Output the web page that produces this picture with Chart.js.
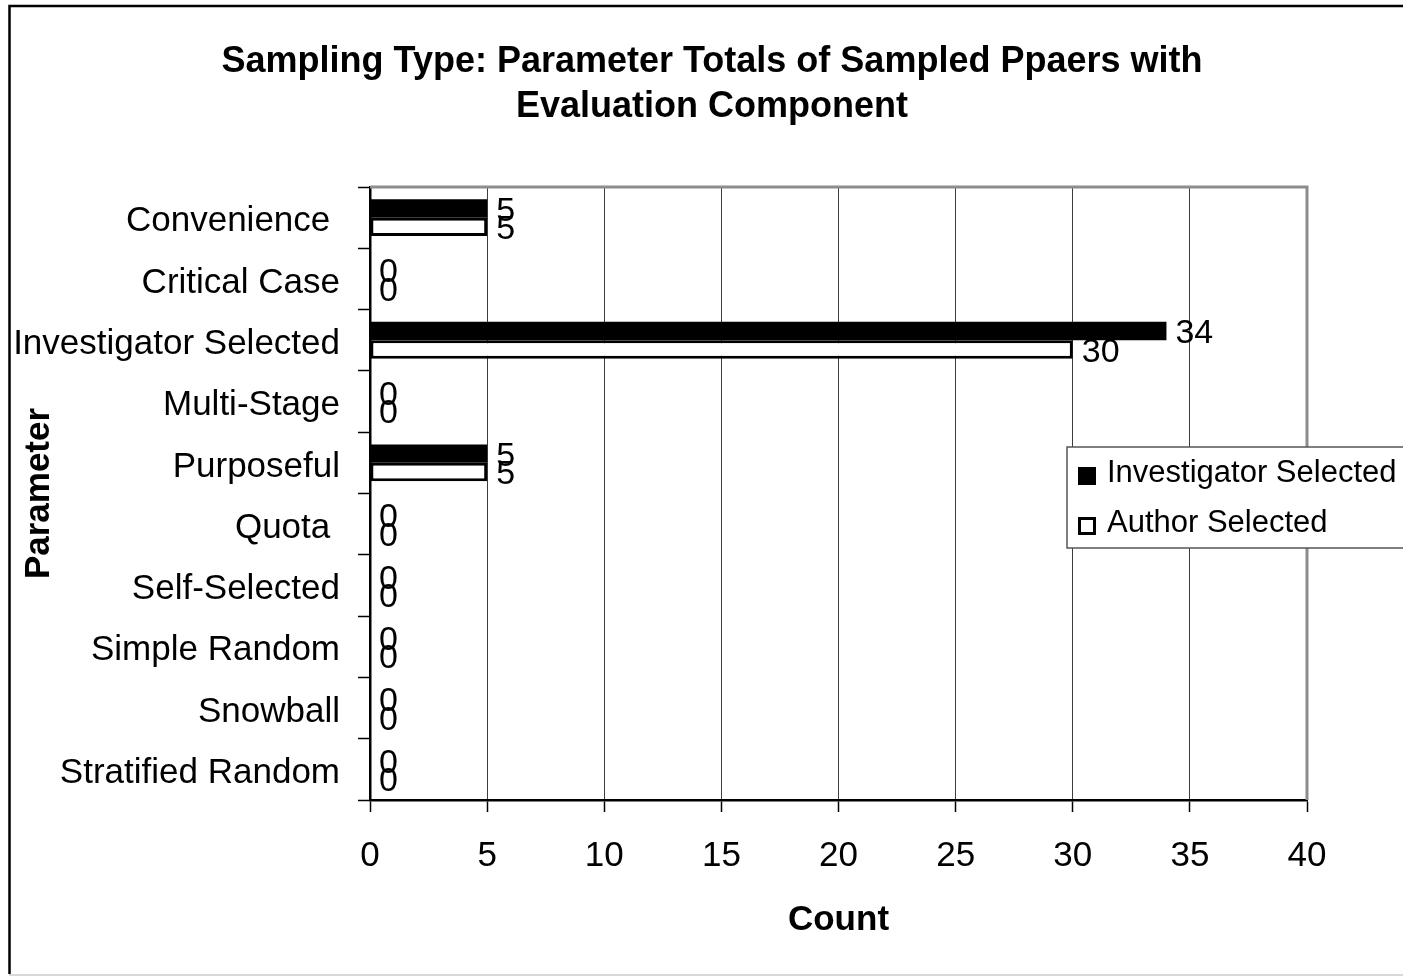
<!DOCTYPE html>
<html>
<head>
<meta charset="utf-8">
<script src="https://cdn.jsdelivr.net/npm/chart.js@4.4.1/dist/chart.umd.min.js"></script>
<style>
  html, body { margin: 0; padding: 0; background: #fff; overflow: hidden; }
  #wrap { width: 1403px; height: 976px; position: relative; }
</style>
</head>
<body>
<div id="wrap"><canvas id="c" width="1403" height="976"></canvas></div>
<script>
// Sampling types (trailing spaces kept as typed in the source sheet)
const categories = ['Convenience ', 'Critical Case', 'Investigator Selected', 'Multi-Stage', 'Purposeful',
                    'Quota ', 'Self-Selected', 'Simple Random', 'Snowball', 'Stratified Random'];
const investigatorSelected = [5, 0, 34, 0, 5, 0, 0, 0, 0, 0];
const authorSelected       = [5, 0, 30, 0, 5, 0, 0, 0, 0, 0];
const seriesNames = ['Investigator Selected', 'Author Selected'];
const titleLines = ['Sampling Type: Parameter Totals of Sampled Ppaers with', 'Evaluation Component'];
const xAxisTitle = 'Count';
const yAxisTitle = 'Parameter';
const xTicks = { min: 0, max: 40, step: 5 };

const FONT = "'Liberation Sans', Arial, Helvetica, sans-serif";

// White page with the outer frame lines
const framePlugin = {
  id: 'frame',
  beforeDraw(chart) {
    const ctx = chart.ctx;
    ctx.save();
    ctx.fillStyle = '#fff';
    ctx.fillRect(0, 0, chart.width, chart.height);
    ctx.strokeStyle = '#000';
    ctx.lineWidth = 2.5;
    ctx.beginPath();
    ctx.moveTo(9.5, chart.height - 2);
    ctx.lineTo(9.5, 6);
    ctx.lineTo(chart.width, 6);
    ctx.stroke();
    ctx.strokeStyle = '#d8d8d8';
    ctx.lineWidth = 2;
    ctx.beginPath();
    ctx.moveTo(9, chart.height - 1);
    ctx.lineTo(chart.width, chart.height - 1);
    ctx.stroke();
    ctx.restore();
  }
};

// Category names sit a few pixels below the slot centre
const categoryLabelNudge = {
  id: 'categoryLabelNudge',
  beforeDraw(chart) {
    const items = chart.scales.y.getLabelItems();
    if (items._nudged) return;
    items.forEach(it => { it.options.translation[1] += 4; });
    items._nudged = true;
  }
};

// Two-line bold heading
const headingPlugin = {
  id: 'heading',
  afterDraw(chart) {
    const ctx = chart.ctx;
    ctx.save();
    ctx.fillStyle = '#000';
    ctx.font = 'bold 36px ' + FONT;
    ctx.textAlign = 'center';
    ctx.textBaseline = 'alphabetic';
    titleLines.forEach((line, i) => ctx.fillText(line, 712, 72 + i * 45));
    ctx.restore();
  }
};

// Grey top/right edges of the plot area
const plotEdgePlugin = {
  id: 'plotEdge',
  beforeDatasetsDraw(chart) {
    const { left, top, right, bottom } = chart.chartArea;
    const ctx = chart.ctx;
    ctx.save();
    ctx.strokeStyle = '#8c8c8c';
    ctx.lineWidth = 3;
    ctx.beginPath();
    ctx.moveTo(left, top);
    ctx.lineTo(right, top);
    ctx.lineTo(right, bottom);
    ctx.stroke();
    ctx.restore();
  }
};

// Value written just past the end of each bar
const valueLabelPlugin = {
  id: 'valueLabels',
  afterDatasetsDraw(chart) {
    const ctx = chart.ctx;
    ctx.save();
    ctx.fillStyle = '#000';
    ctx.font = '34px ' + FONT;
    ctx.textAlign = 'left';
    ctx.textBaseline = 'middle';
    chart.data.datasets.forEach((ds, di) => {
      const meta = chart.getDatasetMeta(di);
      meta.data.forEach((bar, i) => {
        ctx.fillText(String(ds.data[i]), bar.x + 9, bar.y + 3);
      });
    });
    ctx.restore();
  }
};

// Boxed legend on the right-hand side
const legendBoxPlugin = {
  id: 'legendBox',
  afterDraw(chart) {
    const ctx = chart.ctx;
    const bx = 1067, by = 447, bw = 345, bh = 101;
    ctx.save();
    ctx.fillStyle = '#fff';
    ctx.fillRect(bx, by, bw, bh);
    ctx.strokeStyle = '#555';
    ctx.lineWidth = 1.5;
    ctx.strokeRect(bx, by, bw, bh);
    ctx.font = '31px ' + FONT;
    ctx.textAlign = 'left';
    ctx.textBaseline = 'middle';
    chart.data.datasets.forEach((ds, i) => {
      const cy = by + 26 + i * 50;
      const mx = 1078, ms = 18;
      ctx.fillStyle = ds.backgroundColor;
      ctx.fillRect(mx, cy - ms / 2 + 3, ms, ms);
      if (ds.borderWidth) {
        ctx.strokeStyle = ds.borderColor;
        ctx.lineWidth = 3;
        ctx.strokeRect(mx + 1.5, cy - ms / 2 + 4.5, ms - 3, ms - 3);
      }
      ctx.fillStyle = '#000';
      ctx.fillText(ds.label, 1107, cy);
    });
    ctx.restore();
  }
};

new Chart(document.getElementById('c'), {
  type: 'bar',
  data: {
    labels: categories,
    datasets: [
      {
        label: seriesNames[0],
        data: investigatorSelected,
        backgroundColor: '#000',
        borderWidth: 0,
        categoryPercentage: 0.6,
        barPercentage: 1.0
      },
      {
        label: seriesNames[1],
        data: authorSelected,
        backgroundColor: '#fff',
        borderColor: '#000',
        borderWidth: 3,
        borderSkipped: false,
        categoryPercentage: 0.6,
        barPercentage: 1.0
      }
    ]
  },
  options: {
    indexAxis: 'y',
    responsive: false,
    animation: false,
    layout: { padding: { top: 187, right: 96, bottom: 0, left: 0 } },
    plugins: {
      legend: { display: false },
      title: { display: false },
      tooltip: { enabled: false }
    },
    scales: {
      x: {
        type: 'linear',
        min: xTicks.min,
        max: xTicks.max,
        ticks: {
          stepSize: xTicks.step,
          color: '#000',
          font: { family: FONT, size: 35 },
          padding: 23
        },
        grid: {
          color: '#3c3c3c',
          lineWidth: 1,
          drawTicks: true,
          tickLength: 12,
          tickColor: '#000',
          tickWidth: 1.5
        },
        border: { color: '#000', width: 2.5 },
        title: {
          display: true,
          text: xAxisTitle,
          color: '#000',
          font: { family: FONT, size: 35, weight: 'bold' },
          padding: { top: 0, bottom: 35 }
        },
        afterFit(scale) { scale.height = 176; }
      },
      y: {
        type: 'category',
        ticks: {
          color: '#000',
          font: { family: FONT, size: 35 },
          padding: 18,
          autoSkip: false
        },
        grid: {
          offset: true,
          drawOnChartArea: false,
          drawTicks: true,
          tickLength: 12,
          tickColor: '#000',
          tickWidth: 1.5
        },
        border: { color: '#000', width: 2.5 },
        title: {
          display: true,
          text: yAxisTitle,
          color: '#000',
          font: { family: FONT, size: 35, weight: 'bold' },
          padding: { top: 18, bottom: 0 }
        },
        afterFit(scale) { scale.width = 370; }
      }
    }
  },
  plugins: [framePlugin, categoryLabelNudge, plotEdgePlugin, valueLabelPlugin, headingPlugin, legendBoxPlugin]
});
</script>
</body>
</html>
